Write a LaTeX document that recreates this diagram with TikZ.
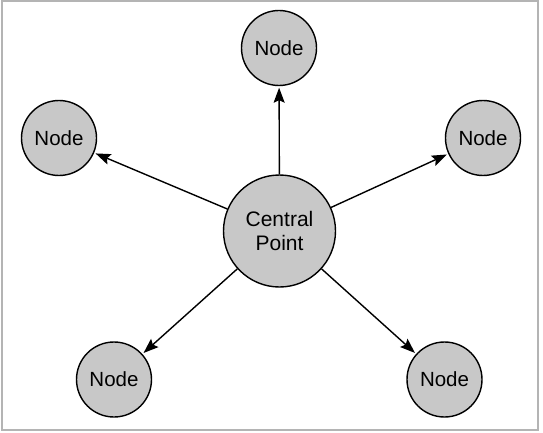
\documentclass[tikz,border=0pt]{standalone}
\usepackage{fontspec}
\setmainfont{Liberation Sans}
\usetikzlibrary{arrows.meta}
\definecolor{nodegrey}{HTML}{C8C8C8}
\definecolor{framegrey}{HTML}{B4B4B4}
\tikzset{
  pnode/.style={circle, draw=black, line width=1.4pt, fill=nodegrey, minimum size=75pt, inner sep=0pt, font=\fontsize{20.5}{24}\selectfont},
  cnode/.style={circle, draw=black, line width=1.4pt, fill=nodegrey, minimum size=112pt, inner sep=0pt, align=center, font=\fontsize{21}{24}\selectfont},
  link/.style={line width=1.4pt, shorten >=1.5pt, -{Stealth[length=15pt,width=11pt,inset=2.5pt]}}
}
\begin{document}
\begin{tikzpicture}[x=1pt,y=-1pt]
\useasboundingbox (0,0) rectangle (543,433);
\draw[framegrey, line width=2pt] (1.5,1.5) rectangle (538,430);
\node[cnode] (c) at (279.5,231) {Central\\Point};
\node[pnode] (t) at (279,48) {Node};
\node[pnode] (l) at (59,138) {Node};
\node[pnode] (r) at (483,138) {Node};
\node[pnode] (bl) at (114,379.5) {Node};
\node[pnode] (br) at (444.5,379.5) {Node};
\foreach \n in {t,l,r,bl,br} \draw[link] (c) -- (\n);
\end{tikzpicture}
\end{document}
